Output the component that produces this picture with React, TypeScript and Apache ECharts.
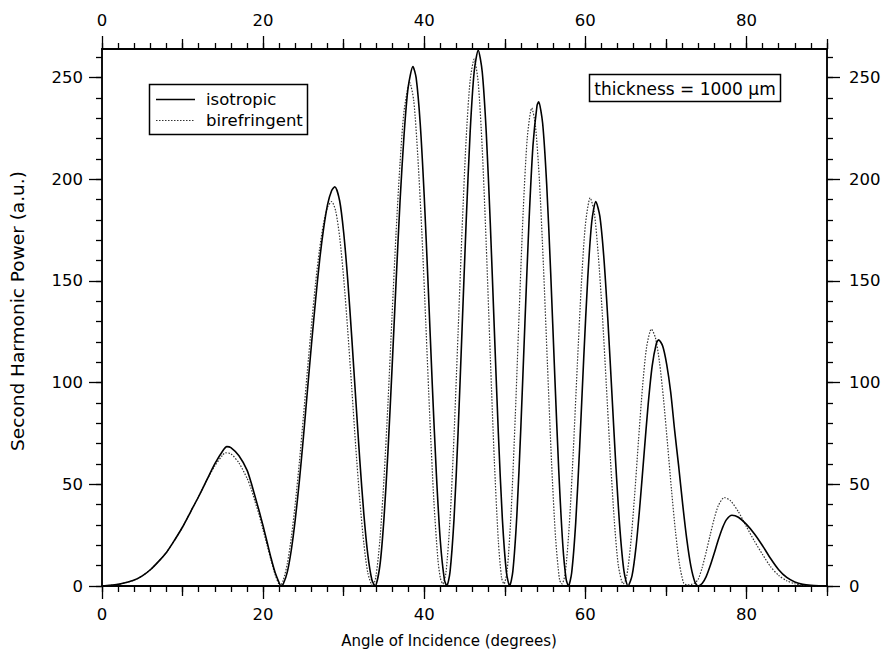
import React, { useEffect, useRef } from "react";
import * as echarts from "echarts";

// ---- Data ----
const isoAngle = [
  0, 1, 2, 3, 4, 5, 6, 7, 8, 9, 10, 11, 12, 13, 14, 15, 15.5, 16, 17, 18, 18.5, 19, 19.5, 20, 20.5, 21, 21.5, 22, 22.2,
  22.5, 23, 23.5, 24, 24.5, 25, 25.5, 26, 26.5, 27, 27.5, 28, 28.5, 28.9,
  29.5, 30, 30.5, 31, 31.5, 32, 32.5, 33, 33.5, 33.9,
  34.5, 35, 35.5, 36, 36.5, 37, 37.5, 38, 38.6,
  39, 39.5, 40, 40.5, 41, 41.5, 42, 42.5, 42.8,
  43.2, 43.7, 44.2, 44.7, 45.2, 45.7, 46.2, 46.7,
  47.2, 47.7, 48.2, 48.7, 49.2, 49.7, 50.2, 50.6,
  51, 51.5, 52, 52.5, 53, 53.5, 54, 54.2,
  54.7, 55.2, 55.7, 56.2, 56.7, 57.2, 57.6, 57.9,
  58.3, 58.8, 59.3, 59.8, 60.3, 60.8, 61.3,
  61.8, 62.3, 62.8, 63.3, 63.8, 64.3, 64.8, 65.3,
  65.8, 66.3, 66.8, 67.3, 67.8, 68.3, 68.8, 69.1,
  69.6, 70.1, 70.6, 71.1, 71.6, 72.1, 72.6, 73.1, 73.6, 74,
  74.5, 75, 75.5, 76, 76.5, 77, 77.5, 78.2,
  79, 80, 81, 82, 83, 84, 85, 86, 87, 88, 89, 90,
];
const isoPower = [
  0, 0.3, 0.8, 1.7, 2.9, 5, 8, 12, 16.5, 22.5, 29, 36.5, 44, 52, 60, 66.5, 68.5, 68, 64, 57, 51, 44, 37, 29.5, 21.5, 13.5, 6.5, 1.5, 0,
  1, 6.8, 17.7, 33, 51.6, 73, 96, 118.6, 140, 159.6, 175.4, 187.5, 194.3, 196.3,
  189.4, 173.8, 150.7, 122.5, 91.9, 62, 35.6, 15.3, 3.1, 0,
  10.1, 33, 66.3, 106.5, 149, 189.3, 222, 245, 255.4,
  249.8, 227.5, 191.6, 146.6, 99.1, 55.7, 22.1, 3.2, 0,
  6.8, 33, 75.2, 126.4, 178.4, 223, 252.8, 263.4,
  252.8, 223, 178.4, 126.4, 75.2, 33, 6.8, 0,
  7.2, 34.8, 78.4, 129.3, 178.5, 216.5, 236.1, 238,
  227.5, 197.6, 153.9, 104, 56.9, 20.4, 3.8, 0,
  6.4, 30.8, 68.7, 112, 151.4, 179.2, 189,
  181.8, 161.4, 130.6, 94.5, 58.4, 27.6, 7.2, 0,
  5.1, 19.5, 40.9, 65.4, 89.3, 108.2, 119, 121,
  118, 109, 95.2, 76, 58.4, 39.6, 22.8, 9.8, 2, 0,
  1.2, 4.6, 9.9, 16.1, 22.6, 28.3, 32.5, 34.8,
  33.8, 30.3, 25.6, 19.8, 13.5, 8, 4.2, 2, 0.8, 0.3, 0.1, 0,
];

const biAngle = [
  0, 1, 2, 3, 4, 5, 6, 7, 8, 9, 10, 11, 12, 13, 14, 15, 15.3, 16, 17, 18, 18.5, 19, 19.5, 20, 20.5, 21, 21.5, 22, 22.1,
  22.5, 23, 23.5, 24, 24.5, 25, 25.5, 26, 26.5, 27, 27.5, 28, 28.5,
  29, 29.5, 30, 30.5, 31, 31.5, 32, 32.5, 33, 33.6,
  34, 34.5, 35, 35.5, 36, 36.5, 37, 37.5, 38.2,
  38.7, 39.2, 39.7, 40.2, 40.7, 41.2, 41.7, 42, 42.3,
  42.7, 43.2, 43.7, 44.2, 44.7, 45.2, 45.7, 46.2,
  46.7, 47.2, 47.7, 48.2, 48.7, 49.2, 49.6, 49.9,
  50.3, 50.8, 51.3, 51.8, 52.3, 52.8, 53.35,
  53.8, 54.3, 54.8, 55.3, 55.8, 56.3, 56.8, 57.1,
  57.5, 58, 58.5, 59, 59.5, 60, 60.6,
  61.1, 61.6, 62.1, 62.6, 63.1, 63.6, 64.1, 64.7,
  65.1, 65.6, 66.1, 66.6, 67.1, 67.6, 68.2,
  68.7, 69.2, 69.7, 70.2, 70.7, 71.2, 71.7, 72.2, 72.6, 73.2, 73.6,
  74, 74.5, 75, 75.5, 76, 76.5, 77.25,
  78, 79, 80, 81, 82, 83, 84, 85, 86, 87, 88, 89, 90,
];
const biPower = [
  0, 0.3, 0.8, 1.7, 2.9, 5, 8, 12, 16.5, 22.5, 29, 36.5, 44, 52, 59, 64.5, 65.5, 65, 60.5, 53, 48, 41.5, 35, 27.5, 20, 12.5, 5.5, 0.5, 0,
  2.8, 10.9, 23.8, 40.8, 60.8, 83.2, 106, 128, 148.4, 165.4, 178.2, 186.2, 189,
  184.5, 171.6, 151.4, 125.9, 97.5, 68.4, 42.3, 21, 6.4, 0,
  4.6, 22.7, 52.5, 90, 132.4, 173.3, 208, 233.6, 247.5,
  238.6, 211.4, 174.2, 128.7, 82.2, 41.6, 13, 4, 1,
  6.6, 32.4, 74, 124.3, 175.3, 219.4, 248.6, 259,
  247.6, 215, 167.6, 113.2, 61.9, 22.2, 4.1, 1,
  7.7, 37.4, 83.2, 136, 185.4, 220.7, 235,
  226.5, 199.3, 157.2, 108.6, 61.3, 24, 3, 1,
  6.1, 29.5, 65.9, 108.2, 147.8, 177.3, 190.8,
  183.9, 163, 134.3, 99.2, 63.3, 32, 10, 1,
  4, 19.5, 43.6, 71.6, 97.9, 117.3, 126.3,
  122.1, 110.2, 92.1, 70, 47.1, 26.4, 10.4, 1.5, 0.5, 0.8, 1.5,
  3.2, 9, 16.7, 25.1, 33.1, 39.4, 43.5,
  42, 36.5, 29.2, 22, 15.5, 9.5, 5.2, 2.6, 1.1, 0.4, 0.1, 0, 0,
];

const xMajorTicks = [0, 20, 40, 60, 80];
const xMidTicks = [10, 30, 50, 70, 90];
const xMinorTicks = [0, 2, 4, 6, 8, 10, 12, 14, 16, 18, 20, 22, 24, 26, 28, 30, 32, 34, 36, 38, 40, 42, 44, 46, 48, 50, 52, 54, 56, 58, 60, 62, 64, 66, 68, 70, 72, 74, 76, 78, 80, 82, 84, 86, 88, 90];
const yMajorTicks = [0, 50, 100, 150, 200, 250];
const yMinorTicks = [0, 10, 20, 30, 40, 50, 60, 70, 80, 90, 100, 110, 120, 130, 140, 150, 160, 170, 180, 190, 200, 210, 220, 230, 240, 250, 260];

const seriesNames = ["isotropic", "birefringent"];
const xTitle = "Angle of Incidence (degrees)";
const yTitle = "Second Harmonic Power (a.u.)";
const noteText = "thickness = 1000 µm";

const FONT = '"DejaVu Sans", "Liberation Sans", sans-serif';

function xAxisDef(position: "top" | "bottom", ticks: number[], len: number, labels: boolean) {
  return {
    type: "value",
    position,
    min: 0,
    max: 90,
    splitLine: { show: false },
    axisLine: { show: true, onZero: false, lineStyle: { color: "#000", width: 1.5 } },
    axisTick: { show: true, inside: false, length: len, customValues: ticks, lineStyle: { color: "#000", width: 1.3 } },
    axisLabel: labels
      ? { show: true, customValues: xMajorTicks, color: "#000", fontSize: 16.5, fontFamily: FONT, margin: 20 }
      : { show: false },
  };
}

function yAxisDef(position: "left" | "right", ticks: number[], len: number, labels: boolean) {
  return {
    type: "value",
    position,
    min: 0,
    max: 264,
    splitLine: { show: false },
    axisLine: { show: true, onZero: false, lineStyle: { color: "#000", width: 1.5 } },
    axisTick: { show: true, inside: false, length: len, customValues: ticks, lineStyle: { color: "#000", width: 1.3 } },
    axisLabel: labels
      ? { show: true, customValues: yMajorTicks, color: "#000", fontSize: 16.5, fontFamily: FONT, margin: position === "left" ? 19 : 22 }
      : { show: false },
  };
}

export default function App() {
  const ref = useRef<HTMLDivElement>(null);
  useEffect(() => {
    if (!ref.current) return;
    const chart = echarts.init(ref.current, null, { renderer: "svg" });
    const isoData = isoAngle.map((a, i) => [a, isoPower[i]]);
    const biData = biAngle.map((a, i) => [a, biPower[i]]);
    chart.setOption({
      animation: false,
      backgroundColor: "#fff",
      grid: { left: 102, right: 65, top: 49, bottom: 74, containLabel: false },
      xAxis: [
        xAxisDef("bottom", xMajorTicks, 13, true),
        xAxisDef("bottom", xMidTicks, 10, false),
        xAxisDef("bottom", xMinorTicks, 6, false),
        xAxisDef("top", xMajorTicks, 13, true),
        xAxisDef("top", xMidTicks, 10, false),
        xAxisDef("top", xMinorTicks, 6, false),
      ],
      yAxis: [
        yAxisDef("left", yMajorTicks, 13, true),
        yAxisDef("left", yMinorTicks, 6, false),
        yAxisDef("right", yMajorTicks, 13, true),
        yAxisDef("right", yMinorTicks, 6, false),
      ],
      series: [
        {
          name: seriesNames[1],
          type: "line",
          data: biData,
          xAxisIndex: 0,
          yAxisIndex: 0,
          showSymbol: false,
          symbol: "none",
          smooth: 0.25,
          lineStyle: { color: "#333", width: 1.2, type: [1.5, 1.5] },
        },
        {
          name: seriesNames[0],
          type: "line",
          data: isoData,
          xAxisIndex: 0,
          yAxisIndex: 0,
          showSymbol: false,
          symbol: "none",
          smooth: 0.25,
          lineStyle: { color: "#000", width: 1.6 },
        },
      ],
      graphic: [
        {
          type: "rect",
          z: 100,
          shape: { x: 149.5, y: 84.5, width: 158, height: 50 },
          style: { fill: "#fff", stroke: "#000", lineWidth: 1.5 },
        },
        {
          type: "line",
          z: 101,
          shape: { x1: 156, y1: 99.5, x2: 195, y2: 99.5 },
          style: { stroke: "#000", lineWidth: 1.4 },
        },
        {
          type: "line",
          z: 101,
          shape: { x1: 156, y1: 120.5, x2: 195, y2: 120.5 },
          style: { stroke: "#333", lineWidth: 1.2, lineDash: [1.5, 1.5] },
        },
        {
          type: "text",
          z: 101,
          style: { text: seriesNames[0], x: 206, y: 99.5, font: `16.5px ${FONT}`, fill: "#000", align: "left", verticalAlign: "middle", textAlign: "left", textVerticalAlign: "middle" },
        },
        {
          type: "text",
          z: 101,
          style: { text: seriesNames[1], x: 206, y: 120.5, font: `16.5px ${FONT}`, fill: "#000", align: "left", verticalAlign: "middle", textAlign: "left", textVerticalAlign: "middle" },
        },
        {
          type: "rect",
          z: 100,
          shape: { x: 589.5, y: 74.5, width: 191, height: 27 },
          style: { fill: "#fff", stroke: "#000", lineWidth: 1.5 },
        },
        {
          type: "text",
          z: 101,
          style: { text: noteText, x: 685, y: 88.5, font: `17px ${FONT}`, fill: "#000", align: "center", verticalAlign: "middle", textAlign: "center", textVerticalAlign: "middle" },
        },
        {
          type: "text",
          z: 101,
          style: { text: xTitle, x: 449, y: 641, font: `15px ${FONT}`, fill: "#000", align: "center", verticalAlign: "middle", textAlign: "center", textVerticalAlign: "middle" },
        },
        {
          type: "text",
          z: 101,
          x: 17,
          y: 311,
          rotation: Math.PI / 2,
          style: { text: yTitle, x: 0, y: 0, font: `18.5px ${FONT}`, fill: "#000", align: "center", verticalAlign: "middle", textAlign: "center", textVerticalAlign: "middle" },
        },
      ],
    });
    return () => chart.dispose();
  }, []);
  return (
    <div
      ref={ref}
      style={{ position: "absolute", left: 0, top: 0, width: 892, height: 660, background: "#fff" }}
    />
  );
}
